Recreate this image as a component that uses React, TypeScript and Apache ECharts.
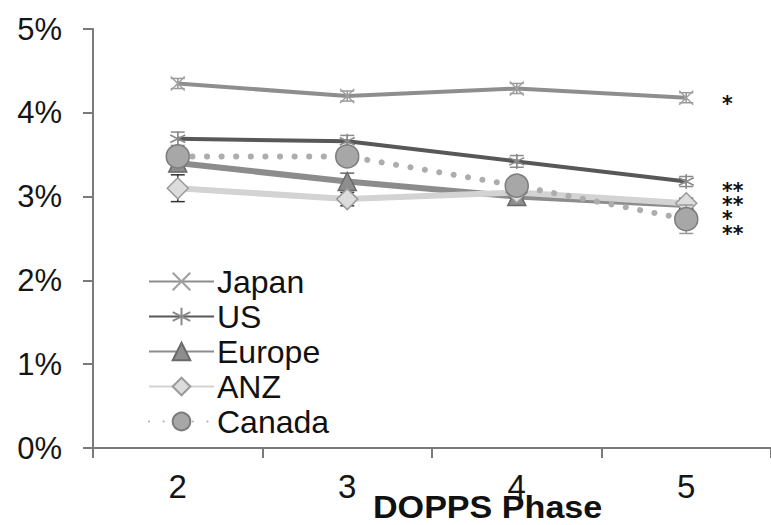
import React, { useEffect, useRef } from "react";
import * as echarts from "echarts";

const categories = ["2", "3", "4", "5"];
const yTicks = [0, 1, 2, 3, 4, 5];
const seriesNames = ["Japan", "US", "Europe", "ANZ", "Canada"];
const japan = [4.35, 4.2, 4.29, 4.18];
const japanErr = [0.06, 0.06, 0.06, 0.06];
const us = [3.69, 3.66, 3.42, 3.18];
const usErr = [0.08, 0.07, 0.07, 0.06];
const europe = [3.4, 3.18, 3.0, 2.9];
const europeErr = [0.1, 0.1, 0.05, 0.06];
const anz = [3.1, 2.97, 3.05, 2.92];
const anzErr = [0.16, 0.08, 0.06, 0.06];
const canada = [3.48, 3.48, 3.13, 2.73];
const canadaErr = [0.08, 0.08, 0.08, 0.17];
const significance = ["*", "**", "**", "*", "**"];
const xTitle = "DOPPS Phase";

const FONT = "Liberation Sans, Arial, sans-serif";

function errorSeries(name: string, vals: number[], errs: number[], color: string, z: number) {
  const data = vals.map((v, i) => [i, v - errs[i], v + errs[i]]);
  return {
    type: "custom",
    name: name + "-err",
    z,
    silent: true,
    data,
    encode: { x: 0, y: [1, 2] },
    renderItem: (params: any, api: any) => {
      const x = api.value(0);
      const lo = api.coord([x, api.value(1)]);
      const hi = api.coord([x, api.value(2)]);
      const hw = 7;
      const style = { stroke: color, lineWidth: 1.5 };
      return {
        type: "group",
        children: [
          { type: "line", shape: { x1: lo[0], y1: lo[1], x2: hi[0], y2: hi[1] }, style },
          { type: "line", shape: { x1: lo[0] - hw, y1: lo[1], x2: lo[0] + hw, y2: lo[1] }, style },
          { type: "line", shape: { x1: hi[0] - hw, y1: hi[1], x2: hi[0] + hw, y2: hi[1] }, style },
        ],
      };
    },
  };
}

export default function App() {
  const ref = useRef<HTMLDivElement>(null);
  useEffect(() => {
    if (!ref.current) return;
    const chart = echarts.init(ref.current, null, { renderer: "svg" });
    const lineBase = { type: "line", smooth: false, showSymbol: true };
    const starY = [99, 186, 200, 214, 229];
    chart.setOption({
      animation: false,
      backgroundColor: "#ffffff",
      grid: { left: 93, top: 29, width: 688, height: 419, containLabel: false },
      xAxis: {
        type: "category",
        data: categories,
        boundaryGap: true,
        axisLine: { lineStyle: { color: "#7a7a7a", width: 2 } },
        axisTick: { show: true, length: 10, lineStyle: { color: "#7a7a7a", width: 2 } },
        axisLabel: { fontSize: 33, color: "#151515", margin: 22, fontFamily: FONT },
        splitLine: { show: false },
      },
      yAxis: {
        type: "value",
        min: yTicks[0],
        max: yTicks[yTicks.length - 1],
        interval: 1,
        axisLine: { show: true, lineStyle: { color: "#7a7a7a", width: 2 } },
        axisTick: { show: true, length: 10, lineStyle: { color: "#7a7a7a", width: 2 } },
        axisLabel: { fontSize: 31, color: "#151515", margin: 31, fontFamily: FONT, formatter: "{value}%" },
        splitLine: { show: false },
      },
      legend: {
        orient: "vertical",
        left: 143,
        top: 259,
        itemWidth: 65,
        itemHeight: 22,
        itemGap: 0,
        data: seriesNames,
        textStyle: { fontSize: 32, color: "#111", fontFamily: FONT, lineHeight: 35, padding: [0, 0, 0, -2] },
      },
      graphic: [
        {
          type: "text",
          x: 373,
          y: 508,
          scaleX: 1.1,
          style: {
            text: xTitle,
            font: "bold 31px " + FONT,
            fill: "#111",
            textAlign: "left",
            textVerticalAlign: "middle",
          },
        },
        ...significance.map((s, i) => ({
          type: "text",
          x: 722,
          y: starY[i] + 5,
          scaleX: 1.7,
          scaleY: 1.7,
          style: {
            text: s,
            font: "bold 12px DejaVu Sans",
            fill: "#111",
            textAlign: "left",
            textVerticalAlign: "middle",
          },
        })),
      ],
      series: [
        {
          ...lineBase,
          name: "Japan",
          data: japan,
          z: 2,
          lineStyle: { color: "#8e8e8e", width: 4 },
          symbol: "path://M0,0L10,10M10,0L0,10",
          symbolSize: 14,
          itemStyle: { color: "#a8a8a8", borderColor: "#a0a0a0", borderWidth: 1.5 },
        },
        {
          ...lineBase,
          name: "US",
          data: us,
          z: 3,
          lineStyle: { color: "#585858", width: 4 },
          symbol: "path://M5,0L5,10M0,2.5L10,7.5M0,7.5L10,2.5",
          symbolSize: 15,
          itemStyle: { color: "#888", borderColor: "#8a8a8a", borderWidth: 1.5 },
        },
        {
          ...lineBase,
          name: "Europe",
          data: europe,
          z: 4,
          lineStyle: { color: "#8c8c8c", width: 6 },
          symbol: "triangle",
          symbolSize: 18,
          itemStyle: { color: "#8e8e8e", borderColor: "#6a6a6a", borderWidth: 1.5 },
        },
        {
          ...lineBase,
          name: "ANZ",
          data: anz,
          z: 5,
          lineStyle: { color: "#d3d3d3", width: 6 },
          symbol: "diamond",
          symbolSize: 21,
          itemStyle: { color: "#dcdcdc", borderColor: "#9a9a9a", borderWidth: 1.5 },
        },
        {
          ...lineBase,
          name: "Canada",
          data: canada,
          z: 6,
          lineStyle: { color: "#adadad", width: 6, type: [0.1, 14.5], cap: "round" },
          symbol: "circle",
          symbolSize: 23,
          itemStyle: { color: "#a7a7a7", borderColor: "#7c7c7c", borderWidth: 1.5 },
        },
        errorSeries("Japan", japan, japanErr, "#9a9a9a", 2),
        errorSeries("US", us, usErr, "#8a8a8a", 3),
        errorSeries("Europe", europe, europeErr, "#666", 4),
        errorSeries("ANZ", anz, anzErr, "#333", 5),
        errorSeries("Canada", canada, canadaErr, "#999", 6),
      ],
    });
    return () => chart.dispose();
  }, []);
  return (
    <div
      ref={ref}
      style={{ position: "absolute", left: 0, top: 0, width: 771, height: 525, background: "#fff" }}
    />
  );
}
